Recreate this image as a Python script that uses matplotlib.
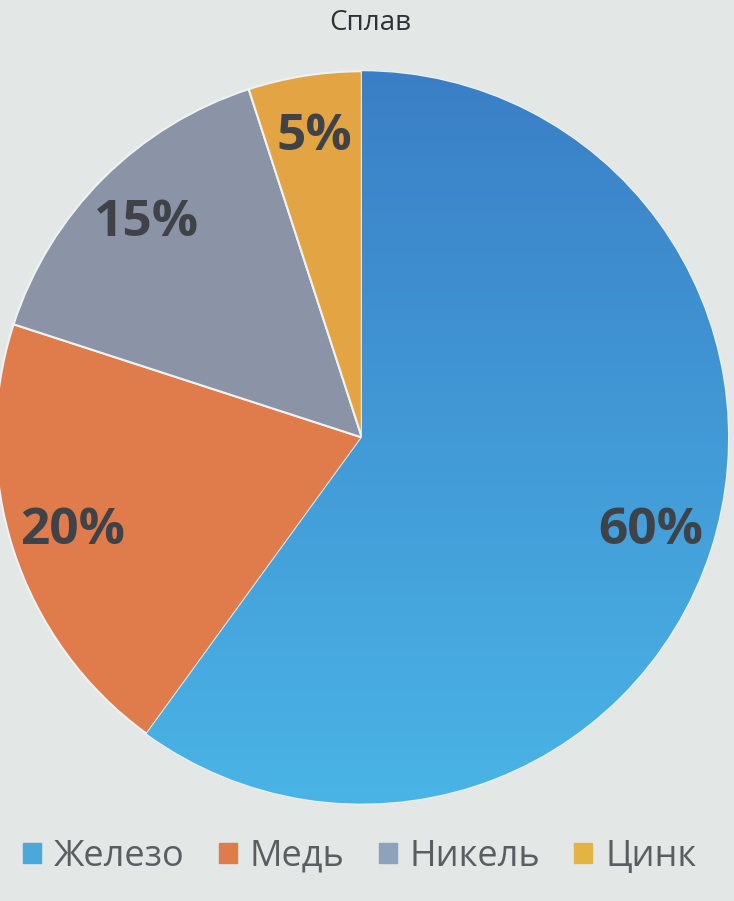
import numpy as np
import matplotlib.pyplot as plt
from matplotlib.colors import LinearSegmentedColormap

# данные
labels = ["Железо", "Медь", "Никель", "Цинк"]
values = [60, 20, 15, 5]
colors = ["#3f92d2", "#e07b4c", "#8b93a6", "#e3a443"]
title = "Сплав"

bg = "#e3e7e5"
plt.rcParams['font.family'] = ['Open Sans', 'DejaVu Sans']

fig = plt.figure(figsize=(7.34, 9.01), dpi=100, facecolor=bg)
ax = fig.add_axes([-0.011, 0.104, 1.008, 0.821])
ax.set_facecolor(bg)

wedges, texts, autotexts = ax.pie(
    values, colors=colors, startangle=90, counterclock=False,
    autopct='%1.0f%%', pctdistance=0.83,
    wedgeprops=dict(edgecolor="#eef2f2", linewidth=1.5),
    textprops=dict(color="#3f4348", fontsize=37, fontweight='bold'))

# градиент для синего сектора: темнее сверху, светлее снизу
cmap = LinearSegmentedColormap.from_list("blue", ["#4ab4e6", "#3a7fc6"])
grad = np.linspace(0, 1, 256).reshape(-1, 1)
im = ax.imshow(grad, cmap=cmap, extent=[-1, 1, 1, -1], aspect='auto', zorder=wedges[0].get_zorder())
im.set_clip_path(wedges[0])
for t in autotexts:
    t.set_zorder(5)
ax.set_xlim(-1.01, 1.01)
ax.set_ylim(-1.01, 1.01)
ax.set_aspect('equal')
ax.axis('off')

fig.text(0.505, 0.975, title, ha='center', va='center', fontsize=20, color="#2e3236")

handles = [plt.Rectangle((0, 0), 1, 1, color=c) for c in ["#4aa8dc", "#e07b4c", "#8fa2bc", "#e3b443"]]
leg = fig.legend(handles, labels, loc='center', bbox_to_anchor=(0.49, 0.049), ncol=4,
                 frameon=False, fontsize=26, handlelength=0.5, handleheight=0.5,
                 handletextpad=0.35, columnspacing=0.95)
for t in leg.get_texts():
    t.set_color("#5a5e62")

fig.savefig("out.png", dpi=100, facecolor=bg)
